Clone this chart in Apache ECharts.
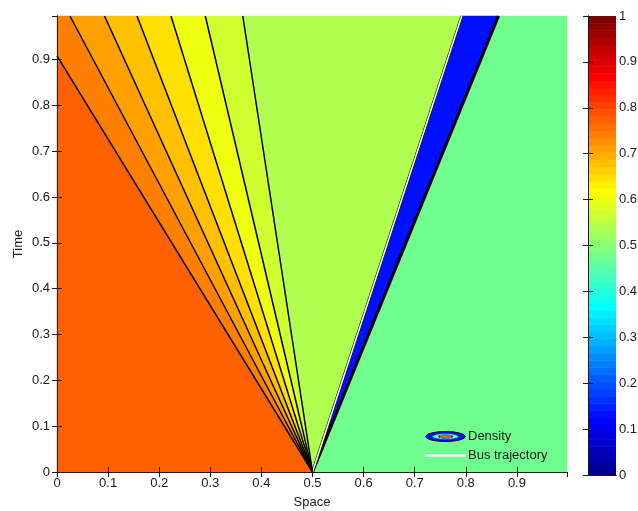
<!DOCTYPE html>
<html><head><meta charset="utf-8">
<script src="https://cdn.jsdelivr.net/npm/echarts@6/dist/echarts.min.js"></script>
<style>html,body{margin:0;padding:0;background:#fff}#c{width:638px;height:511px}</style>
</head><body><div id="c"></div>
<script>
// ---- data ----
const xMax = 0.998, yMax = 0.995;
const fanOrigin = [0.5, 0];
const fanLeftEdgeY = 0.908;                                        // first fan contour meets the left edge
const fanTopX = [0.0254, 0.093, 0.1566, 0.2231, 0.2902, 0.3636];   // remaining fan contours meet the top edge
const busTopX = 0.792;                                              // bus trajectory at the top edge
const shockTopX = 0.864;                                            // shock at the top edge
const axisTicks = [0, 0.1, 0.2, 0.3, 0.4, 0.5, 0.6, 0.7, 0.8, 0.9];
const cbarTicks = [0, 0.1, 0.2, 0.3, 0.4, 0.5, 0.6, 0.7, 0.8, 0.9, 1];

// ---- styles ----
const regionColors = ['#FF6000','#FF8000','#FFA000','#FFC000','#FFE000','#F0FF10','#D0FF30','#B0FF50','#0010FF','#70FF8F'];
const FONT = 'Liberation Sans';
const INK = '#1a1a1a';

function jet64(){
  const m=64,n=16,u=[];
  for(let k=1;k<=n;k++)u.push(k/n);
  for(let k=1;k<n;k++)u.push(1);
  for(let k=n;k>=1;k--)u.push(k/n);
  const g0=Math.ceil(n/2)-(m%4===1?1:0);
  const J=Array.from({length:m},()=>[0,0,0]);
  for(let p=0;p<u.length;p++){
    const gi=g0+p+1, ri=gi+n, bi=gi-n;
    if(ri<=m)J[ri-1][0]=u[p];
    if(gi<=m)J[gi-1][1]=u[p];
    if(bi>=1)J[bi-1][2]=u[p];
  }
  return J.map(c=>'rgb('+c.map(v=>Math.round(v*255)).join(',')+')');
}
const jet = jet64();

// ---- geometry built from the data ----
const O = fanOrigin;
const regions = [];
regions.push([O,[0,0],[0,fanLeftEdgeY]]);
regions.push([O,[0,fanLeftEdgeY],[0,yMax],[fanTopX[0],yMax]]);
for(let i=0;i<fanTopX.length-1;i++) regions.push([O,[fanTopX[i],yMax],[fanTopX[i+1],yMax]]);
regions.push([O,[fanTopX[fanTopX.length-1],yMax],[busTopX,yMax]]);
regions.push([O,[busTopX,yMax],[shockTopX,yMax]]);
regions.push([O,[shockTopX,yMax],[xMax,yMax],[xMax,0]]);

const contourLines = [[O,[0,fanLeftEdgeY],1.5]].concat(fanTopX.map(x=>[O,[x,yMax],1.5]));
contourLines.push([O,[busTopX,yMax],2.6]);
contourLines.push([O,[shockTopX,yMax],3]);

const densityIcon = 'image://data:image/svg+xml;charset=utf-8,' + encodeURIComponent(
 "<svg xmlns='http://www.w3.org/2000/svg' width='41' height='11' viewBox='0 0 41 11'>"+
 "<ellipse cx='20.5' cy='5.5' rx='19.8' ry='5' fill='#0010FF' stroke='#000030' stroke-width='1'/>"+
 "<ellipse cx='20.5' cy='5.5' rx='13' ry='3' fill='#70FFB0' stroke='#0030a0' stroke-width='0.6'/>"+
 "<ellipse cx='20.5' cy='5.5' rx='7.5' ry='2' fill='#0010FF'/>"+
 "<rect x='15' y='4.2' width='11' height='2.6' fill='#FF6000'/></svg>");

const axisCommon = {
  type:'value', z:5,
  axisLine:{show:true,lineStyle:{color:INK,width:1}},
  axisTick:{show:true,inside:true,length:5,lineStyle:{color:INK}},
  splitLine:{show:false}
};

const chart = echarts.init(document.getElementById('c'), null, {renderer:'canvas'});
chart.setOption({
  animation:false,
  backgroundColor:'#fff',
  textStyle:{fontFamily:FONT},
  grid:[
    {left:57, top:16, width:510, height:456, containLabel:false, outerBoundsMode:'none'},
    {left:588, top:16, width:28, height:459, containLabel:false, outerBoundsMode:'none'}
  ],
  xAxis:[
    Object.assign({}, axisCommon, {gridIndex:0, position:'bottom', min:0, max:xMax, interval:0.1,
      axisLabel:{margin:5, fontSize:13, color:INK, showMaxLabel:false,
        formatter:v=>axisTicks.some(t=>Math.abs(t-v)<1e-9)?String(+v.toFixed(1)):''},
      name:'Space', nameLocation:'middle', nameGap:24, nameMoveOverlap:false, nameTextStyle:{fontSize:13,color:INK}}),
    Object.assign({}, axisCommon, {gridIndex:0, position:'top', min:0, max:xMax, interval:0.1, axisLabel:{show:false}}),
    Object.assign({}, axisCommon, {gridIndex:1, position:'bottom', min:0, max:1, axisTick:{show:false}, axisLabel:{show:false}}),
    Object.assign({}, axisCommon, {gridIndex:1, position:'top', min:0, max:1, axisTick:{show:false}, axisLabel:{show:false}})
  ],
  yAxis:[
    Object.assign({}, axisCommon, {gridIndex:0, position:'left', min:0, max:yMax, interval:0.1,
      axisLabel:{margin:7, fontSize:13, color:INK, showMaxLabel:false,
        formatter:v=>axisTicks.some(t=>Math.abs(t-v)<1e-9)?String(+v.toFixed(1)):''},
      name:'Time', nameLocation:'middle', nameGap:32, nameMoveOverlap:false, nameTextStyle:{fontSize:13,color:INK}}),
    Object.assign({}, axisCommon, {gridIndex:0, position:'right', min:0, max:yMax, interval:0.1, axisLabel:{show:false}}),
    Object.assign({}, axisCommon, {gridIndex:1, position:'right', min:0, max:1, interval:0.1,
      axisLabel:{margin:3, fontSize:13, color:INK,
        formatter:v=>cbarTicks.some(t=>Math.abs(t-v)<1e-9)?String(+v.toFixed(1)):''}}),
    Object.assign({}, axisCommon, {gridIndex:1, position:'left', min:0, max:1, interval:0.1, axisLabel:{show:false}})
  ],
  legend:{
    orient:'vertical', left:425, top:430, padding:0, itemWidth:41, itemHeight:11, itemGap:6,
    textStyle:{fontSize:13, color:INK, fontFamily:FONT, padding:[0,0,0,-3]},
    data:[
      {name:'Density', icon:densityIcon},
      {name:'Bus trajectory', icon:'path://M0,0 L40,0 L40,2.5 L0,2.5 Z', itemStyle:{color:'#ffffff'}}
    ]
  },
  series:[
    {
      name:'Density', type:'custom', xAxisIndex:0, yAxisIndex:0, z:1,
      data:regions.map((r,i)=>[i]),
      encode:{x:-1,y:-1},
      renderItem:(params,api)=>{
        const i=api.value(0);
        return {type:'polygon', shape:{points:regions[i].map(p=>api.coord(p))},
          style:{fill:regionColors[i], stroke:regionColors[i], lineWidth:0.5}};
      }
    },
    {
      name:'contours', type:'custom', xAxisIndex:0, yAxisIndex:0, z:2,
      data:contourLines.map((l,i)=>[i]),
      encode:{x:-1,y:-1},
      renderItem:(params,api)=>{
        const l=contourLines[api.value(0)];
        const a=api.coord(l[0]), b=api.coord(l[1]);
        return {type:'line', shape:{x1:a[0],y1:a[1],x2:b[0],y2:b[1]},
          style:{stroke:'#000', lineWidth:l[2]}};
      }
    },
    {
      name:'Bus trajectory', type:'line', xAxisIndex:0, yAxisIndex:0, z:3,
      data:[fanOrigin,[busTopX,yMax]], symbol:'none',
      lineStyle:{color:'#ffffff', width:1.6}, itemStyle:{color:'#ffffff'}
    },
    {
      name:'colorbar', type:'custom', xAxisIndex:2, yAxisIndex:2, z:1,
      data:jet.map((c,i)=>[i]),
      encode:{x:-1,y:-1},
      renderItem:(params,api)=>{
        const i=api.value(0);
        const a=api.coord([0,(i+1)/64]), b=api.coord([1,i/64]);
        return {type:'rect', shape:{x:a[0],y:a[1],width:b[0]-a[0],height:b[1]-a[1]+0.5},
          style:{fill:jet[i]}};
      }
    }
  ]
});
</script></body></html>
